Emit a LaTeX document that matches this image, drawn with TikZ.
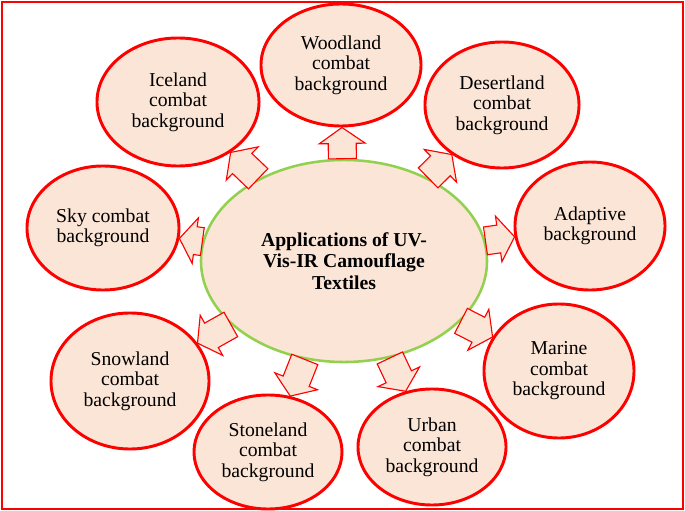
\documentclass[tikz,border=0pt]{standalone}
\usepackage{fontspec}
\setmainfont{Liberation Serif}
\usetikzlibrary{shapes.geometric,calc}
\definecolor{camred}{HTML}{FF0000}
\definecolor{campeach}{HTML}{FBE5D6}
\definecolor{camgreen}{HTML}{92D050}

\begin{document}
\begin{tikzpicture}[
        x=0.025cm, y=-0.025cm,
        hub/.style={ellipse, draw=camgreen, line width=1.8pt, fill=campeach, minimum width=7.15cm, minimum height=5.05cm, inner sep=0pt, align=center, font=\fontsize{14}{15.3}\selectfont\bfseries},
        bg/.style={ellipse, draw=camred, line width=2.1pt, fill=campeach, inner sep=0pt, align=center, font=\fontsize{14}{14.6}\selectfont},
        blockarrow/.style={draw=camred, line width=0.8pt, fill=campeach, line join=miter}
    ]
    \useasboundingbox (0,0) rectangle (685,511);
    \draw[camred, line width=1.2pt] (2,2) rectangle (683,509);
    % centre
    \node[hub] (apps) at (344,261) {Applications of UV-\\Vis-IR Camouflage\\Textiles};
    % backgrounds
    \node[bg, minimum width=4cm, minimum height=3.05cm] (wood) at (341,65) {Woodland\\combat\\background};
    \node[bg, minimum width=4.05cm, minimum height=3.2cm] (ice) at (178,102) {Iceland\\combat\\background};
    \node[bg, minimum width=3.85cm, minimum height=3.15cm] (desert) at (502,105) {Desertland\\combat\\background};
    \node[bg, minimum width=3.8cm, minimum height=3.1cm] (sky) at (103,228) {Sky combat\\background};
    \node[bg, minimum width=3.75cm, minimum height=3.2cm] (adapt) at (590,226) {Adaptive\\background};
    \node[bg, minimum width=3.95cm, minimum height=3.4cm] (snow) at (130,381) {Snowland\\combat\\background};
    \node[bg, minimum width=3.75cm, minimum height=3.35cm] (marine) at (559,371) {Marine\\combat\\background};
    \node[bg, minimum width=3.7cm, minimum height=2.85cm] (stone) at (268,452) {Stoneland\\combat\\background};
    \node[bg, minimum width=3.7cm, minimum height=2.9cm] (urban) at (432,447) {Urban\\combat\\background};
    % block arrows
    \foreach \t in {wood,ice,desert,sky,adapt,snow,marine,stone,urban} {
        \path (apps) -- (\t) coordinate[pos=0] (s) coordinate[pos=1] (e);
        \coordinate (h) at ($(e)!0.4cm!(s)$);
        \draw[blockarrow] ($(s)!0.35cm!90:(e)$) -- ($(h)!0.35cm!90:(e)$) -- ($(h)!0.575cm!90:(e)$) -- (e)
            -- ($(h)!0.575cm!-90:(e)$) -- ($(h)!0.35cm!-90:(e)$) -- ($(s)!0.35cm!-90:(e)$) -- cycle;
    }
\end{tikzpicture}
\end{document}
